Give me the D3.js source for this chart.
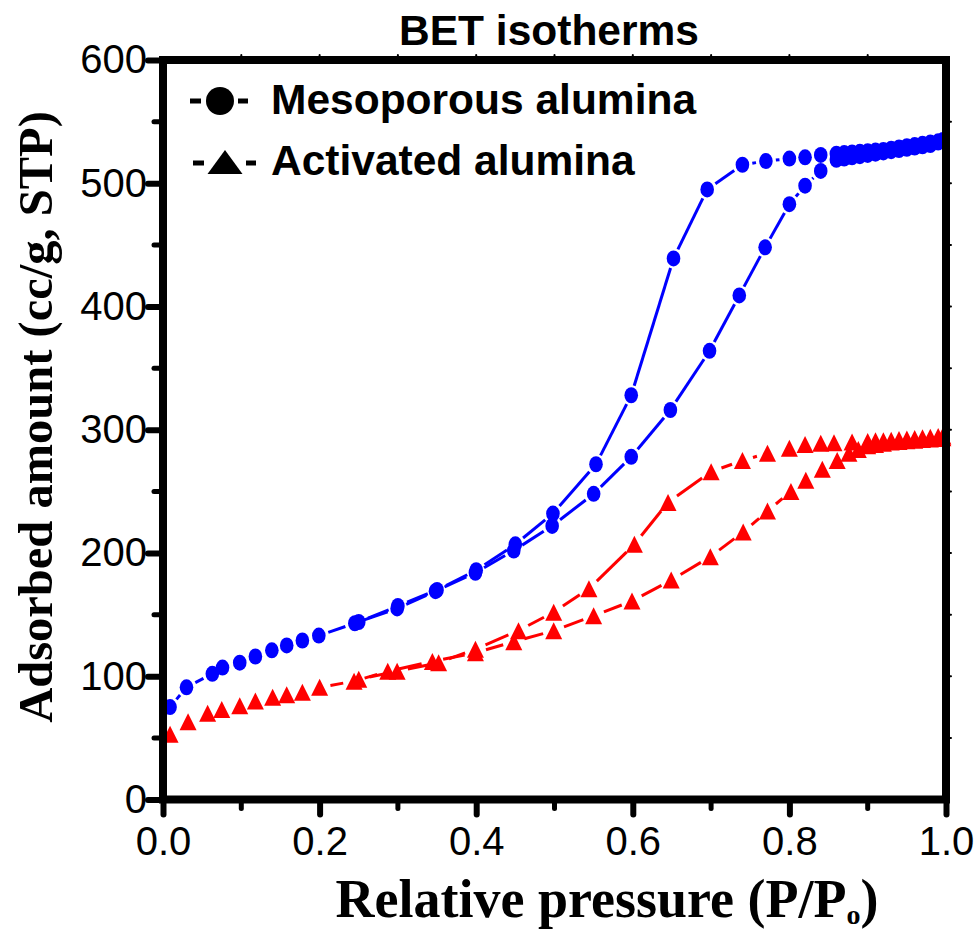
<!DOCTYPE html>
<html>
<head>
<meta charset="utf-8">
<title>BET isotherms</title>
<script src="https://cdn.jsdelivr.net/npm/d3@7/dist/d3.min.js"></script>
<style>
  body { margin: 0; background: #fff; }
  svg { display: block; }
  .tick text { font-family: "Liberation Sans", Arial, sans-serif; font-size: 40px; fill: #000; }
</style>
</head>
<body>
<div id="chart"></div>
<script>
// Mesoporous alumina, adsorption branch then desorption branch
var mesoAdsP = [0.009, 0.030, 0.063, 0.076, 0.098, 0.118, 0.139, 0.158, 0.178, 0.199, 0.245, 0.299, 0.348, 0.399, 0.448, 0.497, 0.550, 0.598, 0.648, 0.698, 0.736, 0.769, 0.800, 0.820, 0.840, 0.860, 0.870, 0.880, 0.890, 0.900, 0.910, 0.920, 0.930, 0.940, 0.950, 0.960, 0.970, 0.980, 0.990, 0.996];
var mesoAdsV = [75, 91, 102, 107, 111, 116, 121, 125, 129, 133, 143, 155, 169, 184, 202, 222, 248, 278, 316, 364, 409, 448, 483, 498, 510, 519, 520, 521, 522, 523, 524, 525, 526, 527, 528, 529, 530, 531, 533, 534];
var mesoDesP = [0.996, 0.990, 0.980, 0.970, 0.960, 0.950, 0.940, 0.930, 0.920, 0.910, 0.900, 0.890, 0.880, 0.870, 0.860, 0.840, 0.820, 0.800, 0.770, 0.740, 0.695, 0.652, 0.598, 0.553, 0.498, 0.450, 0.400, 0.350, 0.300, 0.250];
var mesoDesV = [535, 534, 533, 532, 531, 530, 529, 528, 527, 526.5, 526, 525.5, 525, 524.5, 524, 523, 521, 520, 518, 515, 495, 439, 328, 272, 232, 207, 186, 170, 157, 144];

// Activated alumina
var actAdsP = [0.009, 0.032, 0.057, 0.075, 0.098, 0.118, 0.140, 0.158, 0.178, 0.200, 0.244, 0.287, 0.344, 0.399, 0.448, 0.499, 0.550, 0.599, 0.649, 0.699, 0.741, 0.772, 0.802, 0.821, 0.842, 0.861, 0.876, 0.888, 0.900, 0.910, 0.920, 0.930, 0.940, 0.950, 0.960, 0.970, 0.980, 0.990, 0.996];
var actAdsV = [53, 63, 70, 73, 76, 80, 83, 85, 87, 91, 96, 104, 112, 119, 128, 137, 149, 161, 178, 197, 217, 234, 250, 259, 268, 275, 281, 284, 287, 288, 289, 290, 290.5, 291, 291.5, 292, 292.5, 293, 293.5];
var actDesP = [0.996, 0.990, 0.980, 0.970, 0.960, 0.950, 0.940, 0.930, 0.920, 0.910, 0.900, 0.880, 0.857, 0.840, 0.820, 0.800, 0.772, 0.740, 0.700, 0.645, 0.602, 0.544, 0.499, 0.454, 0.399, 0.352, 0.299, 0.250];
var actDesV = [295, 294.5, 294, 293.5, 293, 292.5, 292, 291.5, 291, 291, 290.5, 290, 289.5, 289, 288, 285, 281, 275, 266, 241, 207, 171, 152, 137, 122, 111, 104, 97.5];

var xTicks = [0, 0.2, 0.4, 0.6, 0.8, 1.0];
var yTicks = [0, 100, 200, 300, 400, 500, 600];
var seriesNames = ["Mesoporous alumina", "Activated alumina"];

var W = 980, H = 934;
var svg = d3.select("#chart").append("svg").attr("width", W).attr("height", H);

var x = d3.scaleLinear().domain([0, 1]).range([163, 946]);
var y = d3.scaleLinear().domain([0, 600]).range([799.5, 60]);

// join two branches into one point list
function pts(p1, v1, p2, v2) {
  var a = p1.map(function(p, i) { return [x(p), y(v1[i])]; });
  var b = p2.map(function(p, i) { return [x(p), y(v2[i])]; });
  return a.concat(b);
}

// line pieces that stop short of each symbol
function gapSegs(p, trim) {
  var out = [];
  for (var i = 0; i < p.length - 1; i++) {
    var dx = p[i+1][0] - p[i][0], dy = p[i+1][1] - p[i][1];
    var len = Math.sqrt(dx*dx + dy*dy);
    if (len <= 2 * trim + 1) continue;
    var ux = dx / len, uy = dy / len;
    out.push([p[i][0] + ux*trim, p[i][1] + uy*trim, p[i+1][0] - ux*trim, p[i+1][1] - uy*trim]);
  }
  return out;
}

var meso = pts(mesoAdsP, mesoAdsV, mesoDesP, mesoDesV);
var act = pts(actAdsP, actAdsV, actDesP, actDesV);

function drawLines(p, color, trim) {
  svg.append("g").selectAll("line").data(gapSegs(p, trim)).enter().append("line")
    .attr("x1", function(d) { return d[0]; }).attr("y1", function(d) { return d[1]; })
    .attr("x2", function(d) { return d[2]; }).attr("y2", function(d) { return d[3]; })
    .attr("stroke", color).attr("stroke-width", 3);
}

var tri = function(w, h) { return "M0," + (-h/2) + "L" + (w/2) + "," + (h/2) + "L" + (-w/2) + "," + (h/2) + "Z"; };

// red series
drawLines(act, "#ff0000", 11);
svg.append("g").selectAll("path").data(act).enter().append("path")
  .attr("d", tri(17, 17))
  .attr("transform", function(d) { return "translate(" + d[0] + "," + d[1] + ")"; })
  .attr("fill", "#ff0000");

// blue series
drawLines(meso, "#0000ff", 10);
svg.append("g").selectAll("ellipse").data(meso).enter().append("ellipse")
  .attr("cx", function(d) { return d[0]; }).attr("cy", function(d) { return d[1]; })
  .attr("rx", 6.8).attr("ry", 8)
  .attr("fill", "#0000ff");

// axes
var xAxis = svg.append("g").attr("transform", "translate(0," + y(0) + ")")
  .call(d3.axisBottom(x).tickValues(xTicks).tickFormat(d3.format(".1f")).tickSize(15).tickPadding(12));
var yAxis = svg.append("g").attr("transform", "translate(" + x(0) + ",0)")
  .call(d3.axisLeft(y).tickValues(yTicks).tickFormat(d3.format("d")).tickSize(15).tickPadding(1));
[xAxis, yAxis].forEach(function(g) {
  g.select(".domain").remove();
  g.selectAll(".tick line").attr("stroke", "#000").attr("stroke-width", 6).attr("stroke-linecap", "round");
});

// minor ticks
var minorX = d3.range(0.1, 1, 0.2);
var minorY = d3.range(50, 600, 100);
var tk = svg.append("g").attr("stroke", "#000").attr("stroke-linecap", "round");
tk.selectAll(".mx").data(minorX).enter().append("line")
  .attr("x1", x).attr("x2", x).attr("y1", y(0)).attr("y2", y(0) + 9).attr("stroke-width", 5);
tk.selectAll(".my").data(minorY).enter().append("line")
  .attr("y1", y).attr("y2", y).attr("x1", x(0)).attr("x2", x(0) - 9).attr("stroke-width", 5);
// top and right small ticks
tk.selectAll(".tx").data(d3.range(0.1, 1, 0.1)).enter().append("line")
  .attr("x1", x).attr("x2", x).attr("y1", y(600)).attr("y2", y(600) - 5).attr("stroke-width", 2);
tk.selectAll(".ry").data(d3.range(50, 600, 50)).enter().append("line")
  .attr("y1", y).attr("y2", y).attr("x1", x(1)).attr("x2", x(1) + 5).attr("stroke-width", 2);

// frame
svg.append("rect")
  .attr("x", x(0)).attr("y", y(600))
  .attr("width", x(1) - x(0)).attr("height", y(0) - y(600))
  .attr("fill", "none").attr("stroke", "#000").attr("stroke-width", 8);

// title
svg.append("text").attr("x", 549).attr("y", 45).attr("text-anchor", "middle")
  .style("font-family", "'Liberation Sans', Arial, sans-serif").style("font-weight", "bold").style("font-size", "42.5px")
  .text("BET isotherms");

// legend
var leg = svg.append("g").style("font-family", "'Liberation Sans', Arial, sans-serif").style("font-weight", "bold").style("font-size", "42.5px");
leg.append("line").attr("x1", 190).attr("x2", 201).attr("y1", 101).attr("y2", 101).attr("stroke", "#000").attr("stroke-width", 5);
leg.append("circle").attr("cx", 220).attr("cy", 101).attr("r", 14).attr("fill", "#000");
leg.append("line").attr("x1", 238).attr("x2", 248).attr("y1", 101).attr("y2", 101).attr("stroke", "#000").attr("stroke-width", 5);
leg.append("text").attr("x", 271).attr("y", 114).text(seriesNames[0]);

leg.append("line").attr("x1", 193).attr("x2", 204).attr("y1", 163).attr("y2", 163).attr("stroke", "#000").attr("stroke-width", 5);
leg.append("path").attr("d", tri(35, 24)).attr("transform", "translate(225,162)").attr("fill", "#000");
leg.append("line").attr("x1", 246).attr("x2", 256).attr("y1", 163).attr("y2", 163).attr("stroke", "#000").attr("stroke-width", 5);
leg.append("text").attr("x", 271).attr("y", 175).text(seriesNames[1]);

// axis titles
var serif = "'Liberation Serif', 'Times New Roman', serif";
svg.append("text").attr("transform", "translate(52,417) rotate(-90)").attr("text-anchor", "middle")
  .style("font-family", serif).style("font-weight", "bold").style("font-size", "48.5px")
  .text("Adsorbed amount (cc/g, STP)");

var xl = svg.append("text").attr("x", 607).attr("y", 917).attr("text-anchor", "middle")
  .style("font-family", serif).style("font-weight", "bold").style("font-size", "54px");
xl.append("tspan").text("Relative pressure (P/P");
xl.append("tspan").attr("dy", 7).style("font-size", "28px").text("o");
xl.append("tspan").attr("dy", -7).text(")");
</script>
</body>
</html>
